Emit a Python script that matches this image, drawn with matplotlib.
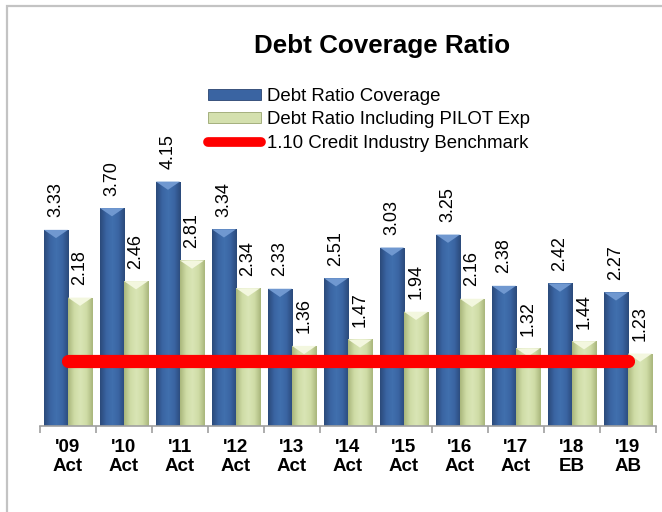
import numpy as np
import matplotlib
matplotlib.use("Agg")
import matplotlib.pyplot as plt
from matplotlib.patches import Rectangle, Polygon
from matplotlib.lines import Line2D
from matplotlib.colors import LinearSegmentedColormap

plt.rcParams['font.family'] = ['Liberation Sans', 'DejaVu Sans']

years = ["'09", "'10", "'11", "'12", "'13", "'14", "'15", "'16", "'17", "'18", "'19"]
kinds = ["Act", "Act", "Act", "Act", "Act", "Act", "Act", "Act", "Act", "EB", "AB"]
coverage = [3.33, 3.70, 4.15, 3.34, 2.33, 2.51, 3.03, 3.25, 2.38, 2.42, 2.27]
coverage_pilot = [2.18, 2.46, 2.81, 2.34, 1.36, 1.47, 1.94, 2.16, 1.32, 1.44, 1.23]
benchmark = 1.10

W, H = 662, 512
fig = plt.figure(figsize=(W / 100, H / 100), dpi=100)

# chart border (only left/top visible in the crop)
fig.patches.append(Rectangle((7 / W, -0.1), 1.2, 1.1 - 6 / H, transform=fig.transFigure,
                             fill=False, edgecolor='#c3c3c3', lw=1.6))

ax = fig.add_axes([40 / W, 86 / H, 616 / W, 294.5 / H])

x = np.arange(len(years))
bw = 0.43

blue_cmap = LinearSegmentedColormap.from_list('b', ['#2b4a7a', '#3a64a2', '#4170ae', '#3a64a2', '#2b4a7a'])
green_cmap = LinearSegmentedColormap.from_list('g', ['#a9b67c', '#cfdca6', '#d9e5b5', '#cfdca6', '#a9b67c'])

b1 = ax.bar(x - bw / 2, coverage, bw, color='#3a64a2', edgecolor='#2a4470', lw=0.6, zorder=2,
            label='Debt Ratio Coverage')
b2 = ax.bar(x + bw / 2, coverage_pilot, bw, color='#d4e0ae', edgecolor='#9aa670', lw=0.6, zorder=2,
            label='Debt Ratio Including PILOT Exp')

grad = np.linspace(0, 1, 64).reshape(1, -1)
for bars, cmap, top_col in [(b1, blue_cmap, '#7098d0'), (b2, green_cmap, '#f3f7df')]:
    for p in bars:
        x0, y0 = p.get_x(), p.get_y()
        w, h = p.get_width(), p.get_height()
        im = ax.imshow(grad, cmap=cmap, extent=[x0, x0 + w, y0, y0 + h], aspect='auto', zorder=2.1)
        im.set_clip_path(p)
        d = 0.14
        ax.add_patch(Polygon([(x0, y0 + h), (x0 + w, y0 + h), (x0 + w / 2, y0 + h - d)],
                             closed=True, facecolor=top_col, edgecolor='none', zorder=2.2))

ax.plot([x[0], x[-1]], [benchmark, benchmark], color='#ff0000', lw=9.5,
        solid_capstyle='round', zorder=3)

for bars, vals in [(b1, coverage), (b2, coverage_pilot)]:
    for p, v in zip(bars, vals):
        ax.annotate(f'{v:.2f}', (p.get_x() + p.get_width() / 2, v), xytext=(0, 9),
                    textcoords='offset points', rotation=90, ha='center', va='bottom',
                    fontsize=13, color='black')

ax.set_xlim(-0.5, len(years) - 0.5)
ax.set_ylim(0, 5)
ax.set_xticks(x)
ax.set_xticklabels([f'{a}\n{b}' for a, b in zip(years, kinds)], fontsize=13.5,
                   fontweight='bold', linespacing=1.15)
ax.set_xticks(np.arange(len(years) + 1) - 0.5, minor=True)
ax.tick_params(axis='x', which='major', length=0, pad=9.5)
ax.tick_params(axis='x', which='minor', length=5, color='#a0a0a0', width=1.2)
ax.set_yticks([])
for s in ['top', 'right', 'left']:
    ax.spines[s].set_visible(False)
ax.spines['bottom'].set_color('#a0a0a0')
ax.spines['bottom'].set_linewidth(1.2)
ax.patch.set_alpha(0)

fig.text(382 / W, 1 - 53 / H, 'Debt Coverage Ratio', ha='center', va='baseline',
         fontsize=18.7, fontweight='bold')

handles = [b1, b2, Line2D([], [], color='#ff0000', lw=7, solid_capstyle='round')]
labels = ['Debt Ratio Coverage', 'Debt Ratio Including PILOT Exp', '1.10 Credit Industry Benchmark']
fig.legend(handles, labels, loc='upper left', bbox_to_anchor=(208 / W, 1 - 88 / H),
           frameon=False, fontsize=13.4, handlelength=2.85, handleheight=0.5,
           handletextpad=0.3, labelspacing=0.34, borderpad=0, borderaxespad=0)

fig.savefig('out.png', dpi=100)
